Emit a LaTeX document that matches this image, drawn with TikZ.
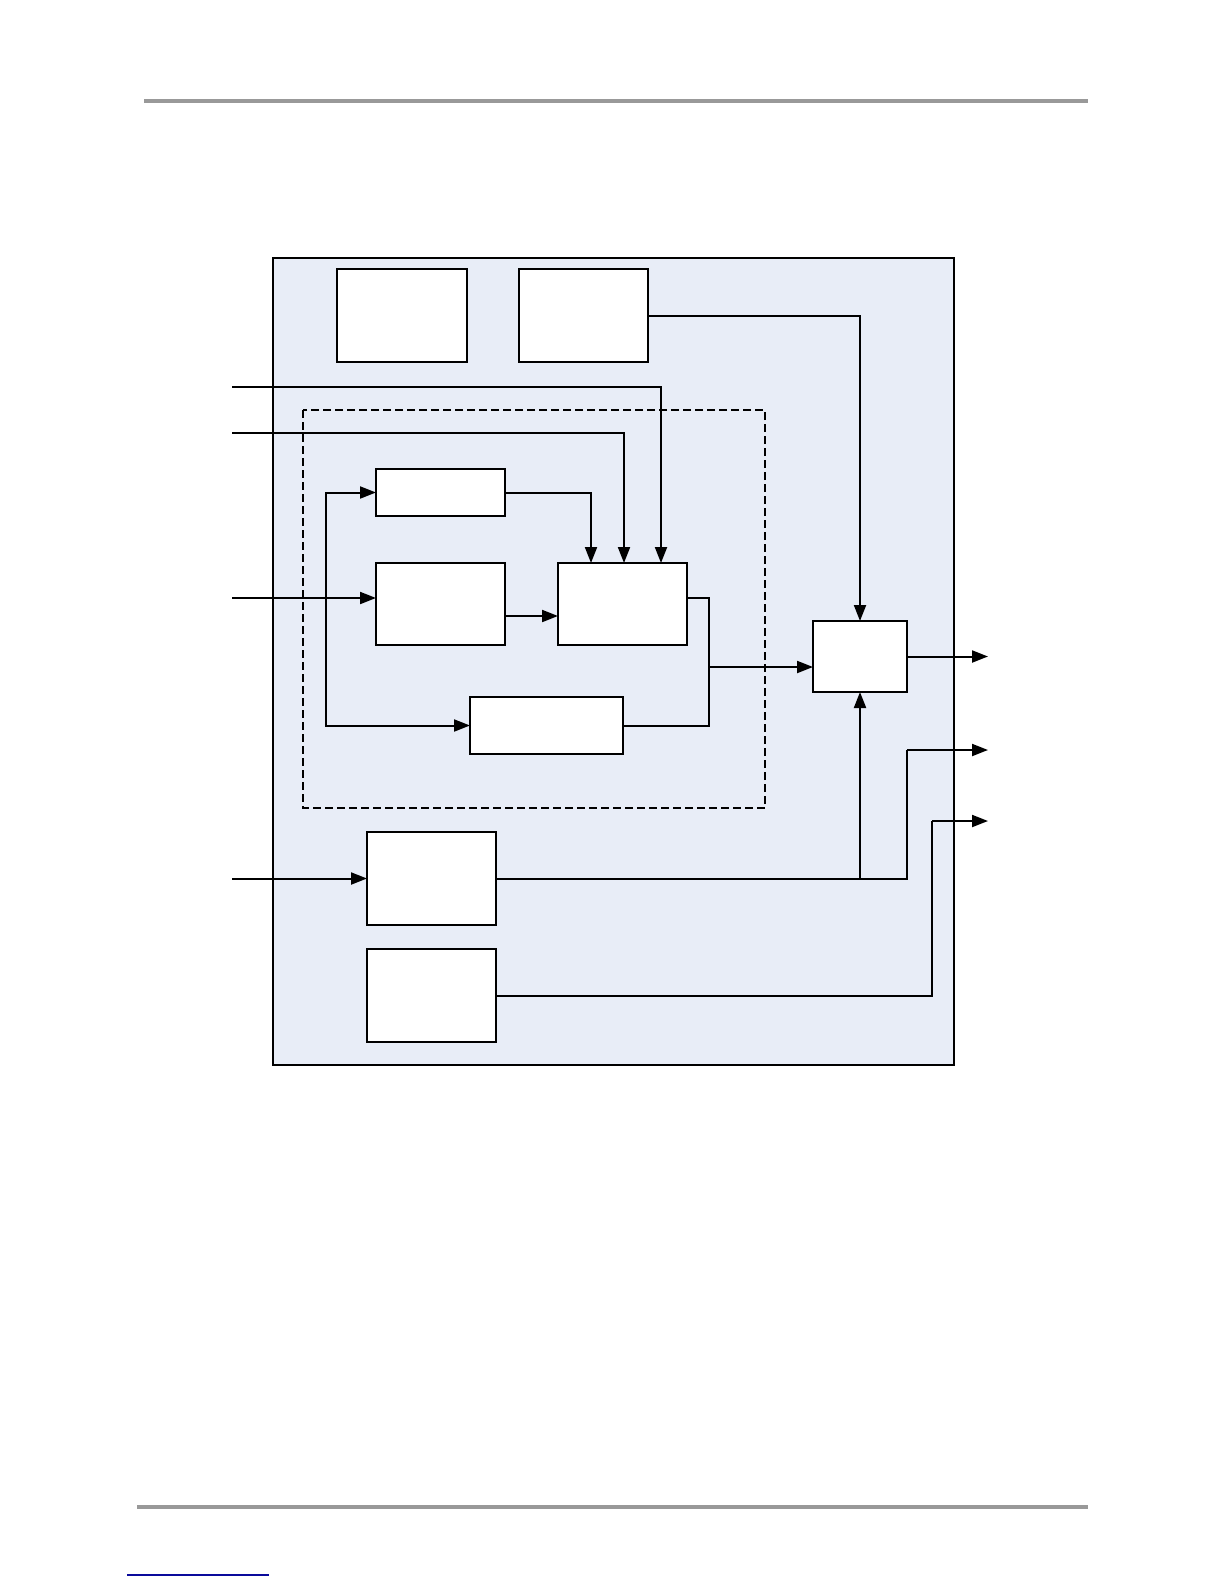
\documentclass[tikz,border=0pt]{standalone}
\usetikzlibrary{arrows.meta,fit}
\definecolor{panel}{RGB}{232,237,247}
\definecolor{rule}{RGB}{153,153,153}
\definecolor{linkblue}{RGB}{10,10,155}
\tikzset{
  blk/.style={draw, fill=white, line width=1pt, inner sep=0pt, outer sep=0pt},
  wire/.style={line width=1pt},
  arr/.style={wire, -{Triangle[length=8pt,width=6pt]}},
}
\begin{document}
\begin{tikzpicture}[x=0.5pt,y=-0.5pt]
\useasboundingbox (0,0) rectangle (1224,1584);
% page rules
\draw[rule, line width=2pt] (144,101) -- (1088,101);
\draw[rule, line width=2pt] (137,1507) -- (1088,1507);
\draw[linkblue, line width=0.7pt] (127,1575) -- (269,1575);
% outer panel
\draw[fill=panel, line width=0.85pt] (273,258) rectangle (954,1065);
% dashed group
\draw[dash pattern=on 4pt off 2pt, line width=0.8pt] (303,410) rectangle (765,808);
% blocks
\coordinate (tl1) at (337,269); \coordinate (tl2) at (467,362);
\node[blk, fit=(tl1)(tl2)] (TL) {};
\coordinate (tr1) at (519,269); \coordinate (tr2) at (648,362);
\node[blk, fit=(tr1)(tr2)] (TR) {};
\coordinate (a1) at (376,469); \coordinate (a2) at (505,516);
\node[blk, fit=(a1)(a2)] (A) {};
\coordinate (b1) at (376,563); \coordinate (b2) at (505,645);
\node[blk, fit=(b1)(b2)] (B) {};
\coordinate (c1) at (558,563); \coordinate (c2) at (687,645);
\node[blk, fit=(c1)(c2)] (C) {};
\coordinate (d1) at (470,697); \coordinate (d2) at (623,754);
\node[blk, fit=(d1)(d2)] (D) {};
\coordinate (e1) at (813,621); \coordinate (e2) at (907,692);
\node[blk, fit=(e1)(e2)] (E) {};
\coordinate (f1) at (367,832); \coordinate (f2) at (496,925);
\node[blk, fit=(f1)(f2)] (F) {};
\coordinate (g1) at (367,949); \coordinate (g2) at (496,1042);
\node[blk, fit=(g1)(g2)] (G) {};
% helper coordinates
\coordinate (in1) at (232,387);
\coordinate (in2) at (232,433);
\coordinate (in3) at (232,598);
\coordinate (in4) at (232,878.5);
\coordinate (colA) at (591,0);
\coordinate (col2) at (624,0);
\coordinate (col1) at (661,0);
\coordinate (loop) at (326,598);
\coordinate (merge) at (709,667);
\coordinate (outx) at (988,0);
\coordinate (o2) at (907,750);
\coordinate (o3) at (932,821);
% connectors
\draw[arr] (TR.east) -| (E.north);
\draw[arr] (in1) -| (C.north -| col1);
\draw[arr] (in2) -| (C.north -| col2);
\draw[arr] (A.east) -| (C.north -| colA);
\draw[arr] (in3) -- (B.west |- in3);
\draw[arr] ([yshift=-6]B.east) -- ([yshift=-6]B.east -| C.west);
\draw[arr] (loop) |- (A.west);
\draw[arr] (loop) |- (D.west);
\draw[wire] (D.east) -| (merge) |- (C.east |- in3);
\draw[arr] (merge) -- (E.west |- merge);
\draw[arr] (E.east) -- (E.east -| outx);
\draw[arr] (in4) -- (F.west);
\draw[wire] (F.east) -| (o2);
\draw[arr] (F.east -| E.south) -- (E.south);
\draw[arr] (o2) -- (o2 -| outx);
\draw[wire] (G.east) -| (o3);
\draw[arr] (o3) -- (o3 -| outx);
\end{tikzpicture}
\end{document}
